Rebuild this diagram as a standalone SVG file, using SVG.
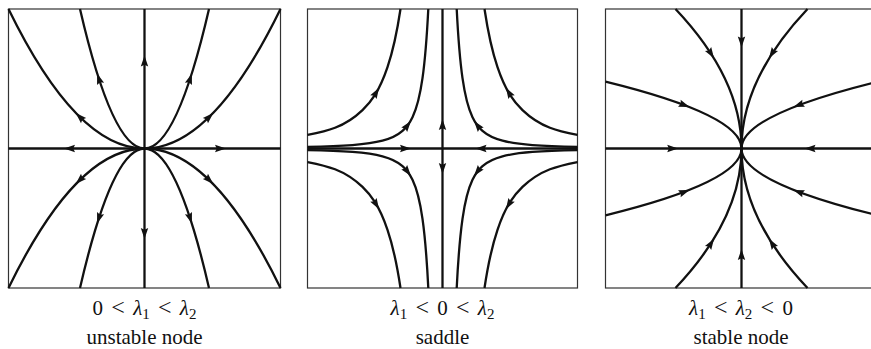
<svg xmlns="http://www.w3.org/2000/svg" width="871" height="349" viewBox="0 0 871 349">
<style>
.frame{fill:none;stroke:#333;stroke-width:1.2}
.c{fill:none;stroke:#111;stroke-width:2.3}
.ax{fill:none;stroke:#111;stroke-width:2.3}
text{font-family:"Liberation Serif","Times New Roman",serif;font-size:21px;fill:#111;text-anchor:middle}
.m{word-spacing:3px}
.it{font-style:italic}
.sub{font-size:15px}
.rel{font-size:24px}
</style>
<defs>
<path id="ah" d="M6,0 L-5,-3.7 L-3.3,0 L-5,3.7 Z" fill="#111"/>
<g id="q1">
<path class="c" d="M0,0 Q-68,0 -136,-139.5"/>
<path class="c" d="M0,0 Q-32.25,0 -64.5,-139.5"/>
<use href="#ah" transform="translate(-64.5,-31.4) rotate(-135.8)"/>
<use href="#ah" transform="translate(-45.5,-69.4) rotate(-108.15)"/>
</g>
<g id="q2">
<path class="c" d="M-135,-13.5 C-116.67,-17.17 -98.33,-20.82 -80,-38.44 C-71.67,-46.45 -63.33,-56.69 -55,-81.33 C-50.67,-94.14 -46.33,-110.7 -42,-139.5"/>
<path class="c" d="M-135,-1.54 C-120,-1.89 -105,-2.32 -90,-3.47 C-80,-4.25 -70,-5.21 -60,-7.81 C-53.33,-9.55 -46.67,-11.72 -40,-17.58 C-36.67,-20.51 -33.33,-24.31 -30,-31.25 C-26.67,-38.19 -23.33,-46.88 -20,-70.32 C-18.07,-83.91 -16.13,-101.5 -14.2,-139.5"/>
<use href="#ah" transform="translate(-66.5,-55.6) rotate(-59.1)"/>
<use href="#ah" transform="translate(-35.2,-22.7) rotate(-52.2)"/>
</g>
<g id="q3">
<path class="c" d="M0,0 Q0,-33.4 -136,-66.8"/>
<path class="c" d="M0,0 Q0,-69.75 -66,-139.5"/>
<use href="#ah" transform="translate(-57.5,-43.5) rotate(20.7)"/>
<use href="#ah" transform="translate(-30.7,-95.2) rotate(57.15)"/>
</g>
</defs>

<g id="unstable-node" transform="translate(144.5,148.5)">
<rect class="frame" x="-136" y="-139.5" width="272" height="279"/>
<g class="connectors">
<line class="ax" x1="-136" y1="0" x2="136" y2="0"/>
<line class="ax" x1="0" y1="-139.5" x2="0" y2="139.5"/>
<use href="#q1"/>
<use href="#q1" transform="scale(-1,1)"/>
<use href="#q1" transform="scale(1,-1)"/>
<use href="#q1" transform="scale(-1,-1)"/>
<use href="#ah" transform="translate(-74.5,0) rotate(180)"/>
<use href="#ah" transform="translate(75.5,0)"/>
<use href="#ah" transform="translate(0,-87) rotate(-90)"/>
<use href="#ah" transform="translate(0,84.5) rotate(90)"/>
</g>
</g>

<g id="saddle" transform="translate(442.5,148.5)">
<rect class="frame" x="-135" y="-139.5" width="270" height="279"/>
<g class="connectors">
<line class="ax" x1="-135" y1="0" x2="135" y2="0"/>
<line class="ax" x1="0" y1="-139.5" x2="0" y2="139.5"/>
<use href="#q2"/>
<use href="#q2" transform="scale(-1,1)"/>
<use href="#q2" transform="scale(1,-1)"/>
<use href="#q2" transform="scale(-1,-1)"/>
<use href="#ah" transform="translate(-37.5,0)"/>
<use href="#ah" transform="translate(39,0) rotate(180)"/>
<use href="#ah" transform="translate(0,-23.5) rotate(-90)"/>
<use href="#ah" transform="translate(0,19.5) rotate(90)"/>
</g>
</g>

<g id="stable-node" transform="translate(741.5,148.5)">
<rect class="frame" x="-136" y="-139.5" width="272" height="279"/>
<g class="connectors">
<line class="ax" x1="-136" y1="0" x2="136" y2="0"/>
<line class="ax" x1="0" y1="-139.5" x2="0" y2="139.5"/>
<use href="#q3"/>
<use href="#q3" transform="scale(-1,1)"/>
<use href="#q3" transform="scale(1,-1)"/>
<use href="#q3" transform="scale(-1,-1)"/>
<use href="#ah" transform="translate(-69.3,0)"/>
<use href="#ah" transform="translate(69,0) rotate(180)"/>
<use href="#ah" transform="translate(0,-107) rotate(90)"/>
<use href="#ah" transform="translate(0,106.5) rotate(-90)"/>
</g>
</g>

<g id="labels">
<text class="m" x="144.5" y="315">0 <tspan class="rel">&lt;</tspan> <tspan class="it">λ</tspan><tspan class="sub" dy="4">1</tspan><tspan dy="-4"> </tspan><tspan class="rel">&lt;</tspan> <tspan class="it">λ</tspan><tspan class="sub" dy="4">2</tspan></text>
<text x="144.5" y="344">unstable node</text>
<text class="m" x="442.5" y="315"><tspan class="it">λ</tspan><tspan class="sub" dy="4">1</tspan><tspan dy="-4"> </tspan><tspan class="rel">&lt;</tspan> 0 <tspan class="rel">&lt;</tspan> <tspan class="it">λ</tspan><tspan class="sub" dy="4">2</tspan></text>
<text x="442.5" y="344">saddle</text>
<text class="m" x="741" y="315"><tspan class="it">λ</tspan><tspan class="sub" dy="4">1</tspan><tspan dy="-4"> </tspan><tspan class="rel">&lt;</tspan> <tspan class="it">λ</tspan><tspan class="sub" dy="4">2</tspan><tspan dy="-4"> </tspan><tspan class="rel">&lt;</tspan> 0</text>
<text x="741" y="344">stable node</text>
</g>
</svg>
